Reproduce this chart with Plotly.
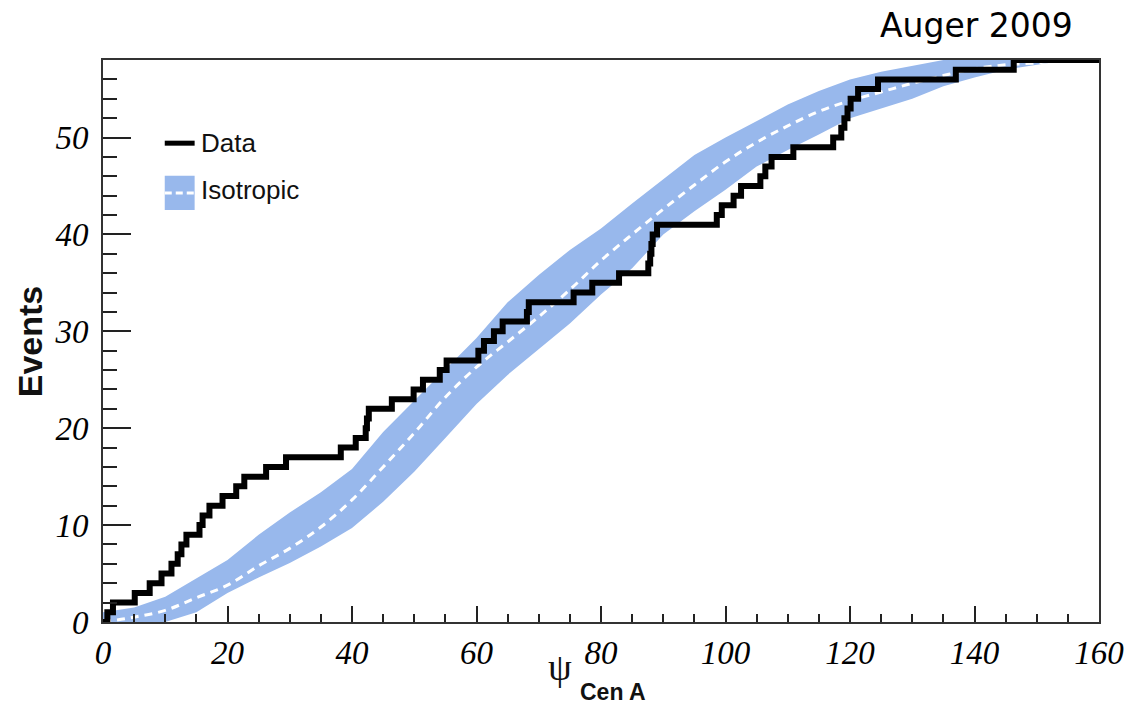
import plotly.graph_objects as go

# ---------------- data ----------------
# Data: angles (deg) at which the cumulative event count increases by one
data_steps_psi = [0.7, 1.6, 5.1, 7.5, 9.4, 11.0, 12.0, 12.6, 13.4, 15.5,
                  16.0, 17.1, 19.2, 21.4, 22.7, 26.2, 29.4, 38.2, 40.6, 42.2,
                  42.4, 42.7, 46.4, 49.9, 51.4, 54.1, 55.2, 60.3, 61.2, 62.8,
                  64.2, 68.1, 68.4, 75.6, 78.6, 82.9, 87.6, 87.9, 88.1, 88.3,
                  89.0, 98.6, 99.4, 101.3, 102.5, 105.6, 106.4, 107.4, 110.9, 117.3,
                  118.6, 119.1, 119.6, 120.1, 121.3, 124.5, 137.0, 146.3]
data_counts = list(range(1, len(data_steps_psi) + 1))

# Isotropic expectation: median and band edges sampled on an angular grid
iso_psi = [0, 5, 10, 15, 20, 25, 30, 35, 40, 45, 50, 55, 60, 65, 70, 75, 80,
           85, 90, 95, 100, 105, 110, 115, 120, 125, 130, 135, 140, 145, 150, 155, 160]
iso_median = [0, 0.5, 1.2, 2.5, 3.8, 5.8, 7.6, 9.8, 12.6, 16.0, 19.5, 23.2, 26.3,
              28.9, 31.5, 34.3, 37.3, 40.0, 42.6, 45.1, 47.5, 49.5, 51.2, 52.7,
              53.8, 54.7, 55.6, 56.4, 57.1, 57.5, 57.7, 58.0, 58.0]
iso_upper = [1.0, 1.5, 2.6, 4.5, 6.4, 9.0, 11.3, 13.4, 15.8, 19.6, 22.8, 26.0,
             29.3, 33.0, 35.8, 38.4, 40.6, 43.2, 45.7, 48.2, 50.0, 51.7, 53.4,
             54.8, 56.0, 56.8, 57.4, 58.0, 58.0, 58.0, 58.0, 58.0, 58.0]
iso_lower = [0, 0, 0, 1.0, 3.0, 4.6, 6.1, 7.8, 9.7, 12.4, 15.5, 19.0, 22.5,
             25.5, 28.2, 30.8, 33.8, 36.5, 40.0, 42.4, 44.6, 47.0, 48.7, 50.3,
             52.0, 53.0, 54.0, 55.3, 56.2, 57.0, 57.5, 58.0, 58.0]

x_tick_vals = [0, 20, 40, 60, 80, 100, 120, 140, 160]
y_tick_vals = [0, 10, 20, 30, 40, 50]

BAND = "rgb(152,184,236)"

# step curve points
data_x = [0] + data_steps_psi + [160]
data_y = [0] + data_counts + [data_counts[-1]]

fig = go.Figure()
fig.add_trace(go.Scatter(x=iso_psi, y=iso_lower, mode="lines",
                         line=dict(width=0, color=BAND), showlegend=False,
                         hoverinfo="skip"))
fig.add_trace(go.Scatter(x=iso_psi, y=iso_upper, mode="lines", fill="tonexty",
                         fillcolor=BAND, line=dict(width=0, color=BAND),
                         showlegend=False, name="Isotropic"))
fig.add_trace(go.Scatter(x=iso_psi, y=iso_median, mode="lines",
                         line=dict(color="white", width=3, dash="8px,6px", shape="spline"),
                         showlegend=False))
fig.add_trace(go.Scatter(x=data_x, y=data_y, mode="lines",
                         line=dict(color="black", width=6, shape="hv"),
                         showlegend=False, name="Data"))

tickfont = dict(family="Liberation Serif", size=33, color="black", style="italic")

fig.update_xaxes(range=[0, 160], tickvals=x_tick_vals, ticks="inside", ticklen=16,
                 tickwidth=1.5, tickcolor="#222", showline=True, linecolor="#333",
                 linewidth=2, mirror=True, showgrid=False, zeroline=False,
                 tickfont=tickfont, ticklabelstandoff=0,
                 minor=dict(dtick=5, ticks="inside", ticklen=8, tickwidth=1.5,
                            tickcolor="#222", showgrid=False))
fig.update_yaxes(range=[0, 58], tickvals=y_tick_vals, ticks="inside", ticklen=28,
                 tickwidth=1.5, tickcolor="#222", showline=True, linecolor="#333",
                 linewidth=2, mirror=True, showgrid=False, zeroline=False,
                 tickfont=tickfont, ticklabelstandoff=6,
                 minor=dict(dtick=2, ticks="inside", ticklen=14, tickwidth=1.5,
                            tickcolor="#222", showgrid=False))

# ---- legend (drawn in paper coordinates) ----
shapes = [
    dict(type="line", xref="paper", yref="paper", x0=0.062, x1=0.092, y0=0.852, y1=0.852,
         line=dict(color="black", width=5)),
    dict(type="rect", xref="paper", yref="paper", x0=0.062, x1=0.092, y0=0.733, y1=0.794,
         fillcolor=BAND, line=dict(width=0)),
    dict(type="line", xref="paper", yref="paper", x0=0.062, x1=0.092, y0=0.7635, y1=0.7635,
         line=dict(color="white", width=3, dash="7px,4px")),
]

annotations = [
    dict(text="Data", xref="paper", yref="paper", x=0.096, y=0.852, xanchor="left",
         yanchor="middle", showarrow=False,
         font=dict(family="Liberation Sans", size=26, color="#111")),
    dict(text="Isotropic", xref="paper", yref="paper", x=0.096, y=0.768, xanchor="left",
         yanchor="middle", showarrow=False,
         font=dict(family="Liberation Sans", size=26, color="#111")),
    dict(text="<b>Events</b>", xref="paper", yref="paper", x=-0.073, y=0.50,
         xanchor="center", yanchor="middle", textangle=-90, showarrow=False,
         font=dict(family="Liberation Sans", size=34, color="#111")),
    dict(text="ψ", xref="paper", yref="paper", x=0.4585, y=-0.080, xanchor="center",
         yanchor="middle", showarrow=False,
         font=dict(family="Liberation Serif", size=38, color="#111")),
    dict(text="<b>Cen A</b>", xref="paper", yref="paper", x=0.477, y=-0.125,
         xanchor="left", yanchor="middle", showarrow=False,
         font=dict(family="Liberation Sans", size=23, color="#111")),
    dict(text="Auger 2009", xref="paper", yref="paper", x=0.877, y=1.062,
         xanchor="center", yanchor="middle", showarrow=False,
         font=dict(family="DejaVu Sans", size=33, color="black")),
]

fig.update_layout(width=1136, height=706, margin=dict(l=103, r=32, t=60, b=84),
                  paper_bgcolor="white", plot_bgcolor="white", showlegend=False,
                  shapes=shapes, annotations=annotations)

fig.write_html("out.html")
